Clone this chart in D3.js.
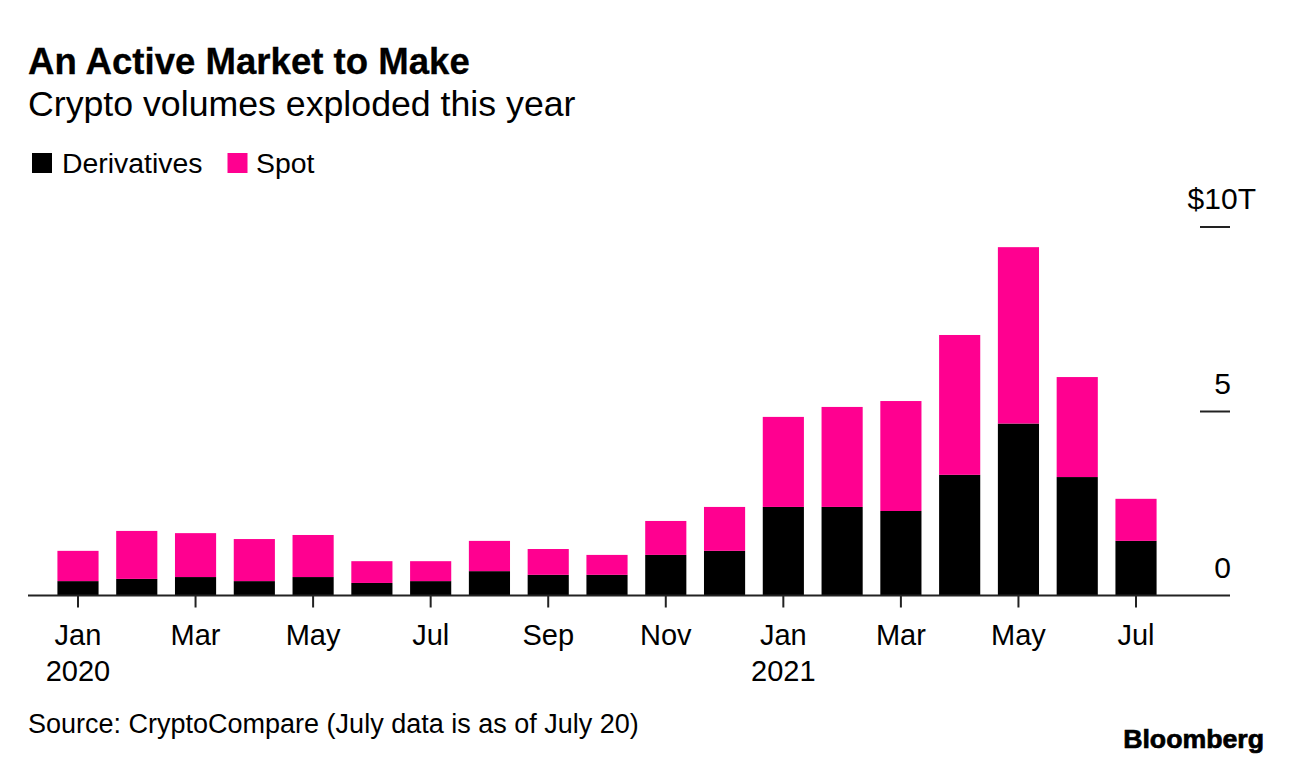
<!DOCTYPE html>
<html lang="en">
<head>
    <meta charset="UTF-8">
    <title>An Active Market to Make</title>
    <style>
        body { margin: 0; padding: 0; background: #fff; }
        svg { display: block; }
        text { font-family: "Liberation Sans", sans-serif; fill: #000; }
        .title { font-size: 36.6px; font-weight: bold; stroke: #000; stroke-width: 0.3px; }
        .subtitle { font-size: 35.7px; }
        .legend-label { font-size: 28.4px; }
        .source { font-size: 27px; }
        .brand { font-size: 26.7px; font-weight: bold; stroke: #000; stroke-width: 0.7px; }
        .axis text { font-size: 29px; }
        .y-axis text { font-size: 30px; }
    </style>
</head>
<body>
    <div id="chart"></div>
    <script src="https://d3js.org/d3.v7.min.js"></script>
    <script>
        const months = ["Jan 2020", "Feb 2020", "Mar 2020", "Apr 2020", "May 2020", "Jun 2020", "Jul 2020",
            "Aug 2020", "Sep 2020", "Oct 2020", "Nov 2020", "Dec 2020", "Jan 2021", "Feb 2021", "Mar 2021",
            "Apr 2021", "May 2021", "Jun 2021", "Jul 2021"];
        const derivatives = [0.39, 0.45, 0.50, 0.39, 0.50, 0.34, 0.39, 0.66, 0.56, 0.56, 1.10, 1.21, 2.40, 2.40, 2.29, 3.27, 4.66, 3.21, 1.48];
        const spot = [0.82, 1.30, 1.19, 1.14, 1.14, 0.59, 0.54, 0.82, 0.70, 0.54, 0.92, 1.19, 2.44, 2.71, 2.98, 3.79, 4.78, 2.71, 1.14];
        const seriesNames = ["Derivatives", "Spot"];
        const seriesColors = ["#000000", "#ff0090"];
        const yTicks = [0, 5, 10];

        const rows = months.map((m, i) => ({ month: m, Derivatives: derivatives[i], Spot: spot[i] }));

        const svg = d3.select("#chart").append("svg")
            .attr("width", 1292)
            .attr("height", 764);

        // titulki
        svg.append("text").attr("class", "title").attr("x", 28).attr("y", 74).text("An Active Market to Make");
        svg.append("text").attr("class", "subtitle").attr("x", 28).attr("y", 116).text("Crypto volumes exploded this year");

        // legenda
        const legendX = [32, 227.5];
        const legendTextX = [62, 256];
        seriesNames.forEach((name, i) => {
            svg.append("rect")
                .attr("x", legendX[i]).attr("y", 153)
                .attr("width", 20).attr("height", 20)
                .attr("fill", seriesColors[i]);
            svg.append("text").attr("class", "legend-label")
                .attr("x", legendTextX[i]).attr("y", 173).text(name);
        });

        const x = d3.scaleBand()
            .domain(months)
            .range([48.6, 1165.4])
            .paddingInner(0.3)
            .paddingOuter(0.15);

        const y = d3.scaleLinear()
            .domain([0, 10])
            .range([595.5, 226.5]);

        const color = d3.scaleOrdinal().domain(seriesNames).range(seriesColors);
        const stacked = d3.stack().keys(seriesNames)(rows);

        // stupci
        svg.selectAll(".layer")
            .data(stacked)
            .enter().append("g")
            .attr("class", "layer")
            .attr("fill", d => color(d.key))
            .selectAll("rect")
            .data(d => d)
            .enter().append("rect")
            .attr("x", d => x(d.data.month))
            .attr("y", d => y(d[1]))
            .attr("width", x.bandwidth())
            .attr("height", d => y(d[0]) - y(d[1]));

        // x os
        const xAxis = svg.append("g")
            .attr("class", "axis x-axis")
            .attr("transform", `translate(0,${y(0)})`)
            .call(d3.axisBottom(x)
                .tickValues(months.filter((m, i) => i % 2 === 0))
                .tickSize(12)
                .tickPadding(17)
                .tickFormat(d => d.split(" ")[0]));
        xAxis.select(".domain").remove();
        xAxis.selectAll("line").attr("stroke", "#222").attr("stroke-width", 2);
        xAxis.selectAll(".tick text").attr("dy", "0.71em");

        // godine ispod sijecnja
        xAxis.selectAll(".tick")
            .filter(d => d.startsWith("Jan"))
            .append("text")
            .attr("y", 85.5)
            .attr("text-anchor", "middle")
            .attr("fill", "#000")
            .text(d => d.split(" ")[1]);

        // y os
        const yAxis = svg.append("g")
            .attr("class", "axis y-axis")
            .attr("transform", "translate(1230,0)")
            .call(d3.axisLeft(y)
                .tickValues(yTicks)
                .tickSize(30)
                .tickFormat(d => d === 10 ? "$10T" : d));
        yAxis.select(".domain").remove();
        yAxis.selectAll("line").attr("stroke", "#222").attr("stroke-width", 2);
        yAxis.selectAll(".tick").filter(d => d === 0).select("line").remove();
        yAxis.selectAll(".tick text")
            .attr("x", d => d === 10 ? 26 : 1)
            .attr("y", -18)
            .attr("dy", 0);

        // bazna linija
        svg.append("line")
            .attr("x1", 28).attr("x2", 1230)
            .attr("y1", y(0)).attr("y2", y(0))
            .attr("stroke", "#222").attr("stroke-width", 2);

        svg.append("text").attr("class", "source").attr("x", 28).attr("y", 733)
            .text("Source: CryptoCompare (July data is as of July 20)");
        svg.append("text").attr("class", "brand").attr("x", 1264).attr("y", 748)
            .attr("text-anchor", "end").text("Bloomberg");
    </script>
</body>
</html>
